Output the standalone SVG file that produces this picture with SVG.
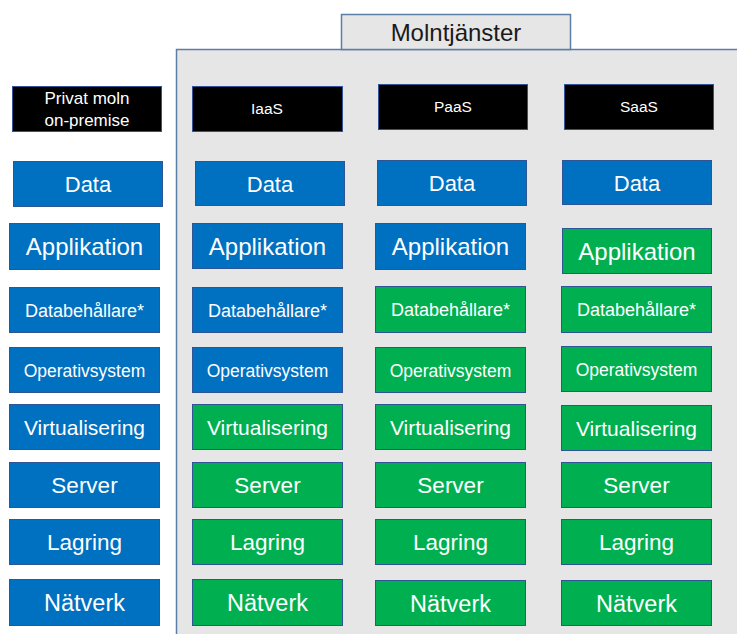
<svg xmlns="http://www.w3.org/2000/svg" width="737" height="634" viewBox="0 0 737 634">
<style>
text{font-family:"Liberation Sans",Arial,sans-serif;text-anchor:middle;fill:#fff}
.b{fill:#0070c0;stroke:#2f5597;stroke-width:1}
.g{fill:#00b050;stroke:#2f5597;stroke-width:1}
.k{fill:#000;stroke:#2f5597;stroke-width:1}
.panel{fill:#e7e6e6;stroke:#5b7ea6;stroke-width:1.5}
.hdr{font-size:15.5px}
.data{font-size:22px}
.app{font-size:24px}
.db{font-size:18px}
.op{font-size:17.5px}
.virt{font-size:21px}
.srv{font-size:22.5px}
.lag{font-size:22.5px}
.nat{font-size:23.5px}
</style>
<rect width="737" height="634" fill="#fff"/>
<g id="molntjanster-panel">
<rect class="panel" x="176.5" y="49.5" width="600" height="620"/>
</g>
<g id="molntjanster-header">
<rect class="panel" x="341.5" y="14.5" width="229" height="35"/>
<text x="456" y="40.5" style="font-size:24px;fill:#1a1a1a">Molntjänster</text>
</g>

<g id="privat-moln">
<rect class="k" x="12.5" y="86.5" width="149" height="45"/>
<text class="hdr" x="87" y="103.5" style="font-size:17px">Privat moln</text>
<text class="hdr" x="87" y="125.5" style="font-size:17px">on-premise</text>
</g>
<g id="iaas"><rect class="k" x="192.5" y="86.5" width="150" height="45"/><text class="hdr" x="267" y="114">IaaS</text></g>
<g id="paas"><rect class="k" x="378.5" y="84.5" width="149" height="45"/><text class="hdr" x="453" y="112">PaaS</text></g>
<g id="saas"><rect class="k" x="564.5" y="84.5" width="149" height="45"/><text class="hdr" x="639" y="112">SaaS</text></g>

<g id="p-data"><rect class="b" x="13.5" y="161.5" width="149" height="45"/><text class="data" x="88" y="192">Data</text></g>
<g id="i-data"><rect class="b" x="195.5" y="161.5" width="149" height="44"/><text class="data" x="270" y="191.5">Data</text></g>
<g id="pa-data"><rect class="b" x="377.5" y="160.5" width="149" height="45"/><text class="data" x="452" y="191">Data</text></g>
<g id="s-data"><rect class="b" x="562.5" y="160.5" width="149" height="44"/><text class="data" x="637" y="190.5">Data</text></g>

<g id="p-app"><rect class="b" x="9.5" y="223.5" width="150" height="46"/><text class="app" x="84.5" y="255">Applikation</text></g>
<g id="i-app"><rect class="b" x="192.5" y="223.5" width="150" height="45"/><text class="app" x="267.5" y="254.5">Applikation</text></g>
<g id="pa-app"><rect class="b" x="375.5" y="223.5" width="150" height="46"/><text class="app" x="450.5" y="255">Applikation</text></g>
<g id="s-app"><rect class="g" x="562.5" y="228.5" width="149" height="45"/><text class="app" x="637" y="259.5">Applikation</text></g>

<g id="p-db"><rect class="b" x="9.5" y="287.5" width="150" height="45"/><text class="db" x="84.5" y="316.5">Databehållare*</text></g>
<g id="i-db"><rect class="b" x="192.5" y="287.5" width="150" height="45"/><text class="db" x="267.5" y="316.5">Databehållare*</text></g>
<g id="pa-db"><rect class="g" x="375.5" y="286.5" width="150" height="46"/><text class="db" x="450.5" y="316">Databehållare*</text></g>
<g id="s-db"><rect class="g" x="561.5" y="286.5" width="150" height="46"/><text class="db" x="636.5" y="316">Databehållare*</text></g>

<g id="p-op"><rect class="b" x="9.5" y="347.5" width="150" height="45"/><text class="op" x="84.5" y="376.5">Operativsystem</text></g>
<g id="i-op"><rect class="b" x="192.5" y="347.5" width="150" height="45"/><text class="op" x="267.5" y="376.5">Operativsystem</text></g>
<g id="pa-op"><rect class="g" x="375.5" y="347.5" width="150" height="45"/><text class="op" x="450.5" y="376.5">Operativsystem</text></g>
<g id="s-op"><rect class="g" x="561.5" y="346.5" width="150" height="45"/><text class="op" x="636.5" y="375.5">Operativsystem</text></g>

<g id="p-virt"><rect class="b" x="9.5" y="404.5" width="150" height="45"/><text class="virt" x="84.5" y="434.5">Virtualisering</text></g>
<g id="i-virt"><rect class="g" x="192.5" y="404.5" width="150" height="45"/><text class="virt" x="267.5" y="434.5">Virtualisering</text></g>
<g id="pa-virt"><rect class="g" x="375.5" y="404.5" width="150" height="45"/><text class="virt" x="450.5" y="434.5">Virtualisering</text></g>
<g id="s-virt"><rect class="g" x="561.5" y="405.5" width="150" height="45"/><text class="virt" x="636.5" y="435.5">Virtualisering</text></g>

<g id="p-srv"><rect class="b" x="9.5" y="462.5" width="150" height="45"/><text class="srv" x="84.5" y="493">Server</text></g>
<g id="i-srv"><rect class="g" x="192.5" y="462.5" width="150" height="45"/><text class="srv" x="267.5" y="493">Server</text></g>
<g id="pa-srv"><rect class="g" x="375.5" y="462.5" width="150" height="45"/><text class="srv" x="450.5" y="493">Server</text></g>
<g id="s-srv"><rect class="g" x="561.5" y="462.5" width="150" height="45"/><text class="srv" x="636.5" y="493">Server</text></g>

<g id="p-lag"><rect class="b" x="9.5" y="519.5" width="150" height="45"/><text class="lag" x="84.5" y="550">Lagring</text></g>
<g id="i-lag"><rect class="g" x="192.5" y="519.5" width="150" height="45"/><text class="lag" x="267.5" y="550">Lagring</text></g>
<g id="pa-lag"><rect class="g" x="375.5" y="519.5" width="150" height="45"/><text class="lag" x="450.5" y="550">Lagring</text></g>
<g id="s-lag"><rect class="g" x="561.5" y="519.5" width="150" height="45"/><text class="lag" x="636.5" y="550">Lagring</text></g>

<g id="p-nat"><rect class="b" x="9.5" y="579.5" width="150" height="46"/><text class="nat" x="84.5" y="611">Nätverk</text></g>
<g id="i-nat"><rect class="g" x="192.5" y="579.5" width="150" height="46"/><text class="nat" x="267.5" y="611">Nätverk</text></g>
<g id="pa-nat"><rect class="g" x="375.5" y="580.5" width="150" height="45"/><text class="nat" x="450.5" y="611.5">Nätverk</text></g>
<g id="s-nat"><rect class="g" x="561.5" y="580.5" width="150" height="45"/><text class="nat" x="636.5" y="611.5">Nätverk</text></g>
</svg>
